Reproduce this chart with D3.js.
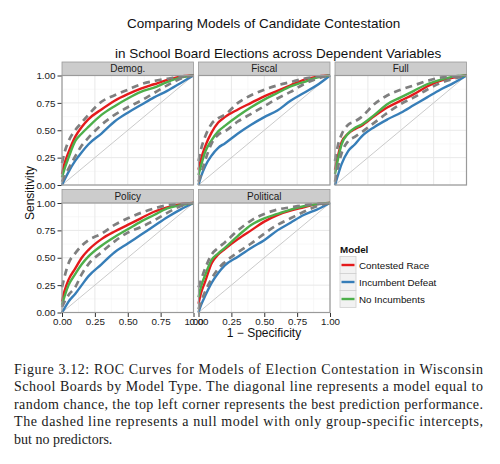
<!DOCTYPE html>
<html><head><meta charset="utf-8">
<script src="https://cdn.jsdelivr.net/npm/d3@7"></script>
<style>body{margin:0;background:#fff}</style>
</head><body><svg id="c" width="500" height="464"></svg>
<script>
// ---------- data ----------
const fpr = [0, 0.02, 0.05, 0.1, 0.15, 0.2, 0.3, 0.4, 0.5, 0.6, 0.7, 0.8, 0.9, 1];
const panelNames = ["Demog.", "Fiscal", "Full", "Policy", "Political"];
const modelNames = ["Contested Race", "Incumbent Defeat", "No Incumbents"];
const modelColors = ["#E41A1C", "#377EB8", "#4DAF4A"];

const demogContested = [0.1, 0.2, 0.3, 0.44, 0.53, 0.6, 0.69, 0.77, 0.83, 0.88, 0.92, 0.96, 0.99, 1];
const demogDefeat    = [0, 0.05, 0.12, 0.22, 0.30, 0.37, 0.47, 0.58, 0.66, 0.73, 0.8, 0.86, 0.93, 1];
const demogNoInc     = [0.07, 0.15, 0.25, 0.40, 0.47, 0.53, 0.64, 0.72, 0.79, 0.85, 0.89, 0.94, 0.98, 1];
const demogNullHigh  = [0.2, 0.3, 0.4, 0.5, 0.57, 0.64, 0.76, 0.82, 0.87, 0.92, 0.95, 0.97, 0.99, 1];
const demogNullLow   = [0.03, 0.08, 0.15, 0.26, 0.36, 0.43, 0.55, 0.64, 0.71, 0.77, 0.84, 0.91, 0.97, 1];

const fiscalContested = [0.14, 0.24, 0.35, 0.48, 0.57, 0.62, 0.69, 0.75, 0.81, 0.86, 0.91, 0.96, 0.99, 1];
const fiscalDefeat    = [0, 0.08, 0.17, 0.27, 0.34, 0.38, 0.47, 0.55, 0.62, 0.68, 0.77, 0.84, 0.91, 1];
const fiscalNoInc     = [0.09, 0.18, 0.3, 0.41, 0.49, 0.54, 0.63, 0.71, 0.78, 0.84, 0.9, 0.94, 0.98, 1];
const fiscalNullHigh  = [0.22, 0.33, 0.44, 0.56, 0.61, 0.64, 0.75, 0.82, 0.87, 0.91, 0.94, 0.97, 0.99, 1];
const fiscalNullLow   = [0.03, 0.1, 0.22, 0.38, 0.46, 0.49, 0.58, 0.65, 0.72, 0.79, 0.85, 0.92, 0.97, 1];

const fullContested = [0.14, 0.25, 0.39, 0.47, 0.51, 0.54, 0.63, 0.71, 0.77, 0.83, 0.9, 0.95, 0.98, 1];
const fullDefeat    = [0, 0.08, 0.19, 0.31, 0.37, 0.44, 0.53, 0.6, 0.66, 0.73, 0.8, 0.87, 0.93, 1];
const fullNoInc     = [0.1, 0.22, 0.37, 0.47, 0.52, 0.55, 0.64, 0.74, 0.8, 0.86, 0.92, 0.96, 0.99, 1];
const fullNullHigh  = [0.22, 0.35, 0.46, 0.55, 0.58, 0.62, 0.74, 0.82, 0.87, 0.91, 0.95, 0.98, 0.99, 1];
const fullNullLow   = [0.03, 0.15, 0.29, 0.4, 0.44, 0.48, 0.57, 0.66, 0.74, 0.8, 0.87, 0.93, 0.97, 1];

const policyContested = [0.1, 0.2, 0.3, 0.4, 0.5, 0.57, 0.67, 0.74, 0.8, 0.86, 0.92, 0.96, 0.99, 1];
const policyDefeat    = [0, 0.04, 0.1, 0.17, 0.25, 0.33, 0.44, 0.55, 0.63, 0.71, 0.79, 0.87, 0.94, 1];
const policyNoInc     = [0.07, 0.15, 0.25, 0.35, 0.44, 0.51, 0.61, 0.69, 0.76, 0.83, 0.89, 0.95, 0.98, 1];
const policyNullHigh  = [0.23, 0.33, 0.45, 0.54, 0.61, 0.66, 0.72, 0.8, 0.86, 0.91, 0.95, 0.98, 0.99, 1];
const policyNullLow   = [0.05, 0.1, 0.16, 0.23, 0.35, 0.44, 0.55, 0.65, 0.73, 0.78, 0.84, 0.91, 0.97, 1];

const politicalContested = [0.08, 0.18, 0.28, 0.45, 0.53, 0.58, 0.67, 0.75, 0.83, 0.89, 0.93, 0.96, 0.99, 1];
const politicalDefeat    = [0, 0.07, 0.15, 0.27, 0.36, 0.43, 0.51, 0.59, 0.66, 0.75, 0.82, 0.89, 0.94, 1];
const politicalNoInc     = [0.14, 0.24, 0.34, 0.48, 0.54, 0.59, 0.7, 0.8, 0.86, 0.9, 0.94, 0.97, 0.99, 1];
const politicalNullHigh  = [0.23, 0.3, 0.4, 0.53, 0.59, 0.64, 0.75, 0.84, 0.9, 0.94, 0.96, 0.98, 0.99, 1];
const politicalNullLow   = [0.03, 0.1, 0.19, 0.31, 0.4, 0.46, 0.55, 0.63, 0.72, 0.8, 0.86, 0.92, 0.97, 1];

const tickValues = [0, 0.25, 0.5, 0.75, 1];
const tickLabels = ["0.00", "0.25", "0.50", "0.75", "1.00"];

const titleLines = ["Comparing Models of Candidate Contestation", "in School Board Elections across Dependent Variables"];
const captionLines = [
  "Figure 3.12: ROC Curves for Models of Election Contestation in Wisconsin",
  "School Boards by Model Type.  The diagonal line represents a model equal to",
  "random chance, the top left corner represents the best prediction performance.",
  "The dashed line represents a null model with only group-specific intercepts,",
  "but no predictors."
];

// ---------- build ----------
const panelModels = [
  [demogContested, demogDefeat, demogNoInc],
  [fiscalContested, fiscalDefeat, fiscalNoInc],
  [fullContested, fullDefeat, fullNoInc],
  [policyContested, policyDefeat, policyNoInc],
  [politicalContested, politicalDefeat, politicalNoInc]
];
const panelNulls = [
  [demogNullHigh, demogNullLow],
  [fiscalNullHigh, fiscalNullLow],
  [fullNullHigh, fullNullLow],
  [policyNullHigh, policyNullLow],
  [politicalNullHigh, politicalNullLow]
];

const svg = d3.select("#c");
const sans = "'Liberation Sans', Arial, sans-serif";
const colX = [62, 198.5, 335];
const panelW = 131.5;
const stripTop = [62, 189.5];
const stripH = 13.5;
const plotH = 109.5;

// title
svg.append("text").attr("x", 127).attr("y", 28).attr("font-family", sans).attr("font-size", 13.5).attr("fill", "#111")
  .text(titleLines[0]);
svg.append("text").attr("x", 115).attr("y", 58).attr("font-family", sans).attr("font-size", 13.5).attr("fill", "#111")
  .text(titleLines[1]);

panelNames.forEach((name, i) => {
  const col = i % 3, row = Math.floor(i / 3);
  const left = colX[col];
  const sTop = stripTop[row];
  const top = sTop + stripH;
  const x = d3.scaleLinear().domain([0, 1]).range([left, left + panelW]);
  const y = d3.scaleLinear().domain([0, 1]).range([top + plotH, top]);
  const g = svg.append("g");

  // strip
  g.append("rect").attr("x", left).attr("y", sTop).attr("width", panelW).attr("height", stripH)
    .attr("fill", "#cccccc").attr("stroke", "#9a9a9a").attr("stroke-width", 0.8);
  g.append("text").attr("x", left + panelW / 2).attr("y", sTop + stripH / 2 + 3.5).attr("text-anchor", "middle")
    .attr("font-family", sans).attr("font-size", 10).attr("fill", "#1a1a1a").text(name);

  // panel bg
  g.append("rect").attr("x", left).attr("y", top).attr("width", panelW).attr("height", plotH).attr("fill", "#fff");
  // minor grid
  const minor = [0.125, 0.375, 0.625, 0.875];
  minor.forEach(v => {
    g.append("line").attr("x1", x(v)).attr("x2", x(v)).attr("y1", top).attr("y2", top + plotH).attr("stroke", "#f4f4f4").attr("stroke-width", 0.6);
    g.append("line").attr("y1", y(v)).attr("y2", y(v)).attr("x1", left).attr("x2", left + panelW).attr("stroke", "#f4f4f4").attr("stroke-width", 0.6);
  });
  tickValues.forEach(v => {
    g.append("line").attr("x1", x(v)).attr("x2", x(v)).attr("y1", top).attr("y2", top + plotH).attr("stroke", "#e8e8e8").attr("stroke-width", 1);
    g.append("line").attr("y1", y(v)).attr("y2", y(v)).attr("x1", left).attr("x2", left + panelW).attr("stroke", "#e8e8e8").attr("stroke-width", 1);
  });

  // diagonal
  g.append("line").attr("x1", x(0)).attr("y1", y(0)).attr("x2", x(1)).attr("y2", y(1))
    .attr("stroke", "#bdbdbd").attr("stroke-width", 0.8);

  const line = d3.line().x((d, k) => x(fpr[k])).y(d => y(d)).curve(d3.curveMonotoneX);
  [0, 1, 2].forEach(m => {
    g.append("path").attr("d", line(panelModels[i][m])).attr("fill", "none")
      .attr("stroke", modelColors[m]).attr("stroke-width", 2.4).attr("stroke-linejoin", "round");
  });
  panelNulls[i].forEach(arr => {
    g.append("path").attr("d", line(arr)).attr("fill", "none")
      .attr("stroke", "#7f7f7f").attr("stroke-width", 2.7).attr("stroke-dasharray", "7,5");
  });

  // border
  g.append("rect").attr("x", left).attr("y", top).attr("width", panelW).attr("height", plotH)
    .attr("fill", "none").attr("stroke", "#9a9a9a").attr("stroke-width", 1.2);

  // y axis
  if (col === 0) {
    const ay = d3.axisLeft(y).tickValues(tickValues).tickFormat((d, k) => tickLabels[k]).tickSize(4).tickPadding(2);
    const ag = svg.append("g").attr("transform", `translate(${left - 0.5},0)`).call(ay);
    ag.select(".domain").remove();
    ag.selectAll("text").attr("font-family", sans).attr("font-size", 9.8).attr("fill", "#1a1a1a");
    ag.selectAll("line").attr("stroke", "#333");
  }
  // x axis
  if (row === 1) {
    const ax = d3.axisBottom(x).tickValues(tickValues).tickFormat((d, k) => tickLabels[k]).tickSize(4).tickPadding(1);
    const ag = svg.append("g").attr("transform", `translate(0,${top + plotH + 0.5})`).call(ax);
    ag.select(".domain").remove();
    ag.selectAll("text").attr("font-family", sans).attr("font-size", 9.8).attr("fill", "#1a1a1a");
    ag.selectAll("line").attr("stroke", "#333");
  }
});

// axis titles
svg.append("text").attr("transform", "translate(34,193) rotate(-90)").attr("text-anchor", "middle")
  .attr("font-family", sans).attr("font-size", 12).attr("fill", "#111").text("Sensitivity");
svg.append("text").attr("x", 264).attr("y", 337).attr("text-anchor", "middle")
  .attr("font-family", sans).attr("font-size", 12).attr("fill", "#111").text("1 \u2212 Specificity");

// legend
const lg = svg.append("g");
lg.append("text").attr("x", 340).attr("y", 253).attr("font-family", sans).attr("font-size", 9.8)
  .attr("font-weight", "bold").attr("fill", "#111").text("Model");
modelNames.forEach((nm, k) => {
  const cy = 265 + k * 17;
  lg.append("rect").attr("x", 340).attr("y", cy - 8.5).attr("width", 16).attr("height", 17)
    .attr("fill", "#f2f2f2").attr("stroke", "#d0d0d0").attr("stroke-width", 0.8);
  lg.append("line").attr("x1", 341.5).attr("x2", 354.5).attr("y1", cy).attr("y2", cy)
    .attr("stroke", modelColors[k]).attr("stroke-width", 2.4);
  lg.append("text").attr("x", 359).attr("y", cy + 3.5).attr("font-family", sans).attr("font-size", 9.8)
    .attr("fill", "#111").text(nm);
});

// caption
const serif = "'Liberation Serif', 'Times New Roman', serif";
captionLines.forEach((t, k) => {
  const tx = svg.append("text").attr("x", 14).attr("y", 374 + k * 17.4).attr("font-family", serif)
    .attr("font-size", 14).attr("fill", "#1a1a1a").text(t);
  if (k < captionLines.length - 1) tx.attr("textLength", 469).attr("lengthAdjust", "spacing");
});
</script></body></html>
